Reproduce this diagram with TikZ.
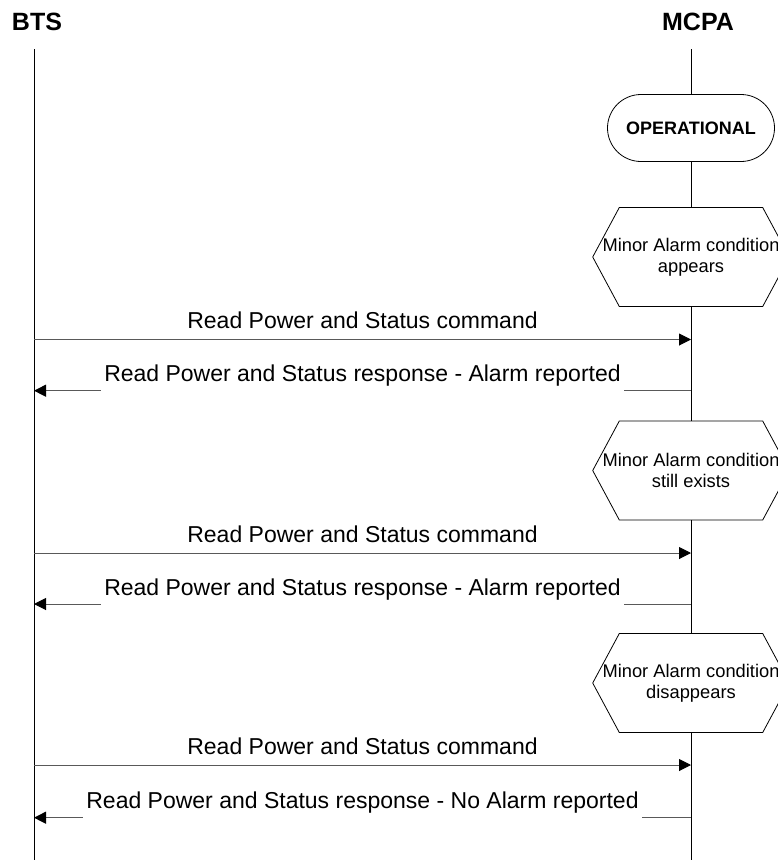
\documentclass[tikz,border=0pt]{standalone}
\usepackage{fontspec}
\setmainfont{Liberation Sans}
\usetikzlibrary{arrows.meta}
\begin{document}
\begin{tikzpicture}[x=1pt,y=-1pt,
  life/.style={line width=1pt, black},
  msg/.style={line width=1pt, black!65, -{Triangle[length=12pt,width=12pt,color=black]}},
  title/.style={font=\fontsize{25}{28}\selectfont\bfseries, inner sep=0pt, anchor=base},
  cmdtext/.style={font=\fontsize{23}{26}\selectfont, inner sep=0pt, anchor=base, text=black},
  resptext/.style={font=\fontsize{23}{26}\selectfont, fill=white, inner xsep=3pt, inner ysep=6pt, anchor=base, text=black},
  hexbox/.style={minimum height=99pt, inner sep=0pt, align=center, font=\fontsize{18.3}{20.6}\selectfont},
  hexline/.style={line width=0.8pt, black, fill=white},
  stadium/.style={draw, line width=0.8pt, fill=white, rounded corners=33.5pt, minimum width=167pt, minimum height=67pt, inner sep=0pt, font=\fontsize{18}{20}\selectfont\bfseries}
]
\useasboundingbox (0,0) rectangle (778,860);

% titles
\node[title] (bts) at (37,30) {BTS};
\node[title] (mcpa) at (698,30) {MCPA};

% lifeline end points
\coordinate (btop) at (34,49);
\coordinate (bbot) at (34,860);
\coordinate (mtop) at (691,49);
\coordinate (mbot) at (691,860);

% state
\node[stadium] (op) at (691,128) {OPERATIONAL};

% hexagon conditions
\foreach \n/\y in {h1/257, h2/470.5, h3/683}{
  \coordinate (\n c) at (691,\y);
  \draw[hexline] (\n c) ++(-98.3,0) -- ++(26.6,-49.5) -- ++(143.4,0) -- ++(26.6,49.5)
     -- ++(-26.6,49.5) -- ++(-143.4,0) -- cycle;
}
\node[hexbox] (h1) at (h1c) {Minor Alarm condition\\appears};
\node[hexbox] (h2) at (h2c) {Minor Alarm condition\\still exists};
\node[hexbox] (h3) at (h3c) {Minor Alarm condition\\disappears};

% lifelines
\draw[life] (btop) -- (bbot);
\draw[life] (mtop) -- (op) (op) -- (h1) (h1) -- (h2) (h2) -- (h3) (h3) -- (mbot);

% message points
\foreach \k/\y in {1/339.5, 2/390.7, 3/553, 4/604, 5/765, 6/817.7}{
  \coordinate (b\k) at (34,\y);
  \coordinate (m\k) at (691,\y);
}

% messages
\draw[msg] (b1) -- (m1) node[cmdtext, midway, yshift=11pt] (t1) {Read Power and Status command};
\draw[msg] (m2) -- (b2) node[resptext, midway, yshift=9pt] (t2) {Read Power and Status response - Alarm reported};
\draw[msg] (b3) -- (m3) node[cmdtext, midway, yshift=11pt] (t3) {Read Power and Status command};
\draw[msg] (m4) -- (b4) node[resptext, midway, yshift=9pt] (t4) {Read Power and Status response - Alarm reported};
\draw[msg] (b5) -- (m5) node[cmdtext, midway, yshift=11pt] (t5) {Read Power and Status command};
\draw[msg] (m6) -- (b6) node[resptext, midway, yshift=9pt] (t6) {Read Power and Status response - No Alarm reported};
\end{tikzpicture}
\end{document}
